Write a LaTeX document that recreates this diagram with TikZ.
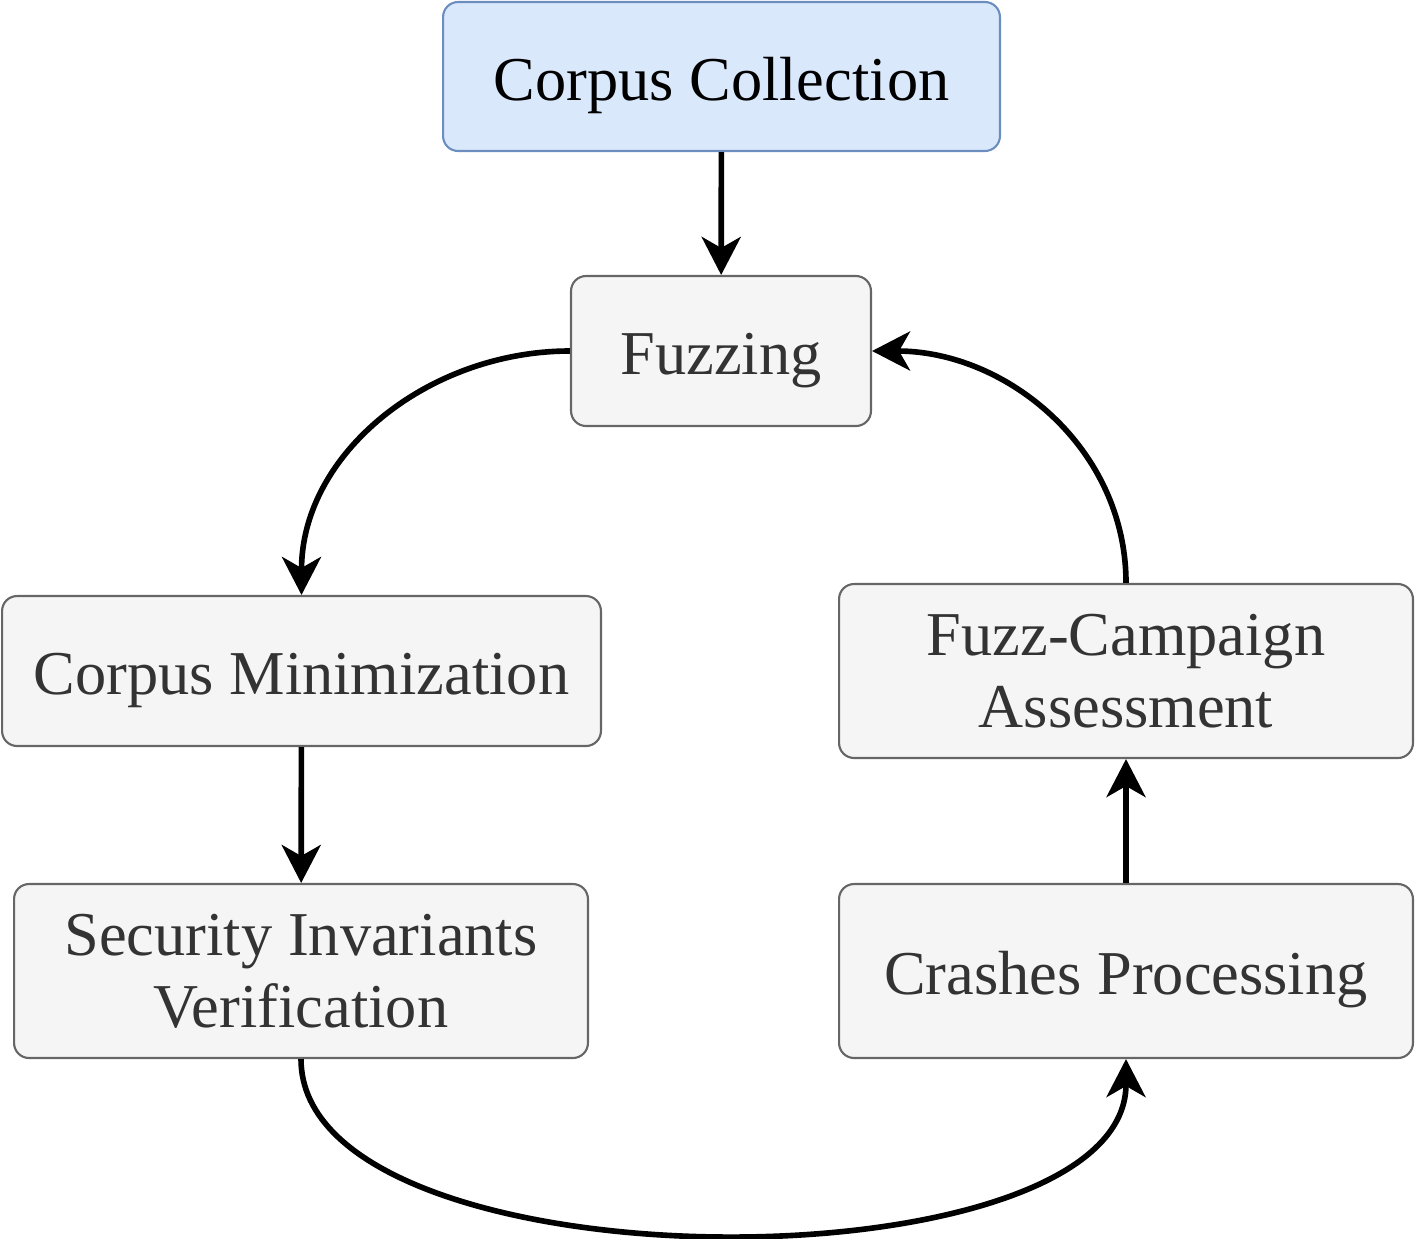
\documentclass[tikz,border=0pt]{standalone}
\usepackage{fontspec}
\setmainfont{Liberation Serif}
\usepackage{tikz}
\usetikzlibrary{arrows.meta}
\usepackage{xcolor}

\definecolor{blueFill}{HTML}{DAE8FC}
\definecolor{blueLine}{HTML}{6C8EBF}
\definecolor{greyFill}{HTML}{F5F5F5}
\definecolor{greyLine}{HTML}{666666}
\definecolor{greyText}{HTML}{333333}

\tikzset{
    stage/.style={draw=greyLine, fill=greyFill, text=greyText, line width=1.2pt,
        rounded corners=0.3cm, align=center, inner sep=0pt,
        font=\fontsize{35.5}{41}\selectfont},
    oneline/.style={text height=0.94cm, text depth=0pt},
    flow/.style={line width=3.2pt, -{Stealth[length=0.76cm, width=0.78cm, inset=0.22cm]}}
}

\begin{document}
\begin{tikzpicture}[x=0.02cm, y=-0.02cm]
    \useasboundingbox (0,0) rectangle (1415,1238);

    % Top box
    \node[stage, oneline, draw=blueLine, fill=blueFill, text=black,
          minimum width=11.14cm, minimum height=2.98cm] (collect) at (721.5,76.5) {Corpus Collection};

    % Loop boxes
    \node[stage, oneline, minimum width=6cm, minimum height=3cm] (fuzz) at (721,351) {Fuzzing};
    \node[stage, oneline, minimum width=11.98cm, minimum height=3cm] (minim) at (301.5,671) {Corpus Minimization};
    \node[stage, minimum width=11.48cm, minimum height=3.48cm] (secur) at (301,971) {Security Invariants\\Verification};
    \node[stage, oneline, minimum width=11.48cm, minimum height=3.48cm] (crash) at (1126,971) {Crashes Processing};
    \node[stage, minimum width=11.48cm, minimum height=3.48cm] (assess) at (1126,671) {Fuzz-Campaign\\Assessment};

    % Straight arrows
    \draw[flow] (collect) -- (fuzz);
    \draw[flow] (minim) -- (secur);
    \draw[flow] (crash) -- (assess);

    % Curved arrows
    \draw[flow] (fuzz.west) to[out=180, in=90] (minim.north);
    \draw[flow] (secur.south) .. controls +(0,233) and +(0,233) .. (crash.south);
    \draw[flow] (assess.north) to[out=90, in=0] (fuzz.east);
\end{tikzpicture}
\end{document}
